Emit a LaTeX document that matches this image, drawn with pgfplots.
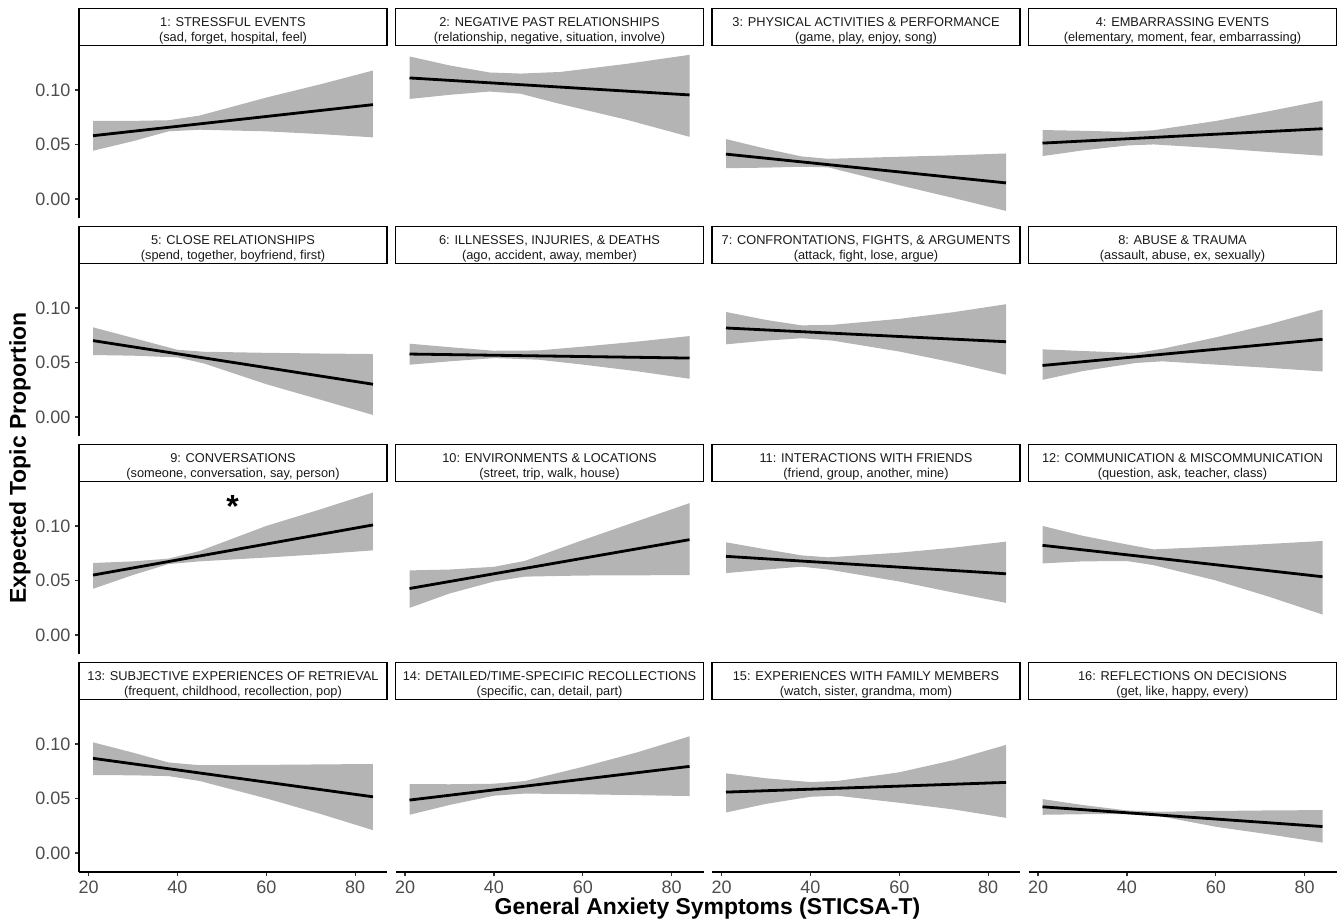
\documentclass[border=0pt]{standalone}
\usepackage{fontspec}
\setmainfont{Liberation Sans}
\usepackage{pgfplots}
\pgfplotsset{compat=1.18}
\usepackage{pgfplotstable}
\definecolor{ribbon}{RGB}{180,180,180}
\definecolor{tickgray}{RGB}{77,77,77}
\definecolor{striptext}{RGB}{26,26,26}

% ribbons: upper bound left to right, then lower bound right to left
\pgfplotstableread{
x y
21 0.0715
30 0.0716
38 0.0722
45 0.0765
60 0.0930
72 0.1050
84 0.1178
84 0.0565
72 0.0595
60 0.0620
45 0.0635
38 0.0620
30 0.0530
21 0.0442
}\RA
\pgfplotstableread{
x y
21 0.1307
30 0.1225
39 0.1160
46 0.1150
55 0.1165
70 0.1240
84 0.1322
84 0.0570
70 0.0725
55 0.0870
46 0.0965
39 0.0985
30 0.0955
21 0.0917
}\RB
\pgfplotstableread{
x y
21 0.0549
30 0.0460
38 0.0390
44 0.0368
60 0.0387
72 0.0400
84 0.0417
84 -0.0110
72 0.0010
60 0.0126
44 0.0290
38 0.0295
30 0.0287
21 0.0282
}\RC
\pgfplotstableread{
x y
21 0.0632
30 0.0625
40 0.0615
46 0.0630
60 0.0715
72 0.0805
84 0.0902
84 0.0396
72 0.0430
60 0.0465
46 0.0500
40 0.0490
30 0.0445
21 0.0393
}\RD
\pgfplotstableread{
x y
21 0.0822
30 0.0725
40 0.0616
46 0.0598
60 0.0588
72 0.0582
84 0.0577
84 0.0018
72 0.0160
60 0.0300
46 0.0490
40 0.0546
30 0.0562
21 0.0568
}\RE
\pgfplotstableread{
x y
21 0.0672
30 0.0640
40 0.0607
50 0.0610
60 0.0645
72 0.0690
84 0.0742
84 0.0350
72 0.0420
60 0.0480
50 0.0525
40 0.0540
30 0.0510
21 0.0479
}\RF
\pgfplotstableread{
x y
21 0.0963
30 0.0890
38 0.0840
45 0.0845
60 0.0900
72 0.0960
84 0.1034
84 0.0387
72 0.0500
60 0.0600
45 0.0700
38 0.0722
30 0.0700
21 0.0666
}\RG
\pgfplotstableread{
x y
21 0.0620
30 0.0605
42 0.0586
48 0.0625
60 0.0730
72 0.0850
84 0.0985
84 0.0417
72 0.0450
60 0.0480
48 0.0510
42 0.0495
30 0.0420
21 0.0340
}\RH
\pgfplotstableread{
x y
21 0.0660
30 0.0675
38 0.0700
45 0.0770
60 0.1000
72 0.1150
84 0.1307
84 0.0776
72 0.0740
60 0.0710
45 0.0675
38 0.0650
30 0.0550
21 0.0423
}\RI
\pgfplotstableread{
x y
21 0.0592
30 0.0600
40 0.0625
47 0.0680
60 0.0870
72 0.1040
84 0.1209
84 0.0549
72 0.0547
60 0.0545
47 0.0535
40 0.0490
30 0.0380
21 0.0248
}\RJ
\pgfplotstableread{
x y
21 0.0850
30 0.0785
38 0.0730
44 0.0712
60 0.0755
72 0.0800
84 0.0856
84 0.0294
72 0.0390
60 0.0490
44 0.0600
38 0.0626
30 0.0600
21 0.0567
}\RK
\pgfplotstableread{
x y
21 0.1000
30 0.0910
40 0.0830
46 0.0785
60 0.0810
72 0.0835
84 0.0862
84 0.0187
72 0.0350
60 0.0500
46 0.0640
40 0.0678
30 0.0675
21 0.0656
}\RL
\pgfplotstableread{
x y
21 0.1015
30 0.0920
38 0.0830
45 0.0805
60 0.0808
72 0.0812
84 0.0816
84 0.0209
72 0.0360
60 0.0500
45 0.0660
38 0.0705
30 0.0712
21 0.0715
}\RM
\pgfplotstableread{
x y
21 0.0632
30 0.0630
40 0.0635
47 0.0660
60 0.0790
72 0.0920
84 0.1070
84 0.0522
72 0.0530
60 0.0538
47 0.0545
40 0.0525
30 0.0440
21 0.0350
}\RN
\pgfplotstableread{
x y
21 0.0730
30 0.0685
40 0.0650
46 0.0660
60 0.0740
72 0.0850
84 0.0991
84 0.0322
72 0.0400
60 0.0460
46 0.0525
40 0.0515
30 0.0450
21 0.0371
}\RO
\pgfplotstableread{
x y
21 0.0494
30 0.0440
40 0.0390
47 0.0378
60 0.0385
72 0.0390
84 0.0393
84 0.0095
72 0.0170
60 0.0240
47 0.0340
40 0.0355
30 0.0355
21 0.0350
}\RP

\pgfplotsset{
  common/.style={
    scale only axis, width=231pt, height=129pt, anchor=north west,
    xmin=17.85, xmax=87.15, ymin=-0.0175, ymax=0.1403,
    xtick={20,40,60,80}, xticklabels={20,40,60,80},
    ytick={0,0.05,0.1}, yticklabels={0.00,0.05,0.10},
    axis x line*=bottom, axis y line*=left,
    axis line style={line width=0.9pt, black, -},
    tick style={line width=0.9pt, color=black!80},
    major tick length=3pt, tick align=outside,
    ticklabel style={font=\fontsize{13.5}{15}\selectfont, text=tickgray},
    clip=false,
  },
}
\tikzset{
  stripbox/.style={draw=black, line width=0.9pt, fill=white, inner sep=0pt,
    minimum width=231pt, minimum height=27.75pt},
  striptxt/.style={inner sep=0pt, align=center,
    text=striptext, font=\fontsize{9.6}{11.2}\selectfont},
}

\newcommand{\panel}[7]{%
\begin{axis}[common, at={(#1,#2)}, #7]
\addplot[fill=ribbon, draw=none] table[x=x,y=y]{#5};
\addplot[black, line width=2.1pt] coordinates {#6};
\node[stripbox, anchor=south] at (rel axis cs:0.5,1) {};
\node[striptxt] at ([yshift=11.7pt]rel axis cs:0.5,1) {#3\\#4};
\end{axis}}

\begin{document}
\begin{tikzpicture}
% row 1
\panel{59.25pt}{-34.5pt}{1: STRESSFUL EVENTS}{(sad, forget, hospital, feel)}{\RA}{(21,0.058) (84,0.0865)}{hide x axis}
\panel{296.625pt}{-34.5pt}{2: NEGATIVE PAST RELATIONSHIPS}{(relationship, negative, situation, involve)}{\RB}{(21,0.111) (84,0.0954)}{hide x axis, hide y axis}
\panel{534pt}{-34.5pt}{3: PHYSICAL ACTIVITIES \& PERFORMANCE}{(game, play, enjoy, song)}{\RC}{(21,0.0411) (84,0.0147)}{hide x axis, hide y axis}
\panel{771.375pt}{-34.5pt}{4: EMBARRASSING EVENTS}{(elementary, moment, fear, embarrassing)}{\RD}{(21,0.0512) (84,0.0644)}{hide x axis, hide y axis}
% row 2
\panel{59.25pt}{-198pt}{5: CLOSE RELATIONSHIPS}{(spend, together, boyfriend, first)}{\RE}{(21,0.070) (84,0.030)}{hide x axis}
\panel{296.625pt}{-198pt}{6: ILLNESSES, INJURIES, \& DEATHS}{(ago, accident, away, member)}{\RF}{(21,0.0577) (84,0.054)}{hide x axis, hide y axis}
\panel{534pt}{-198pt}{7: CONFRONTATIONS, FIGHTS, \& ARGUMENTS}{(attack, fight, lose, argue)}{\RG}{(21,0.0816) (84,0.069)}{hide x axis, hide y axis}
\panel{771.375pt}{-198pt}{8: ABUSE \& TRAUMA}{(assault, abuse, ex, sexually)}{\RH}{(21,0.0472) (84,0.0712)}{hide x axis, hide y axis}
% row 3
\panel{59.25pt}{-361.5pt}{9: CONVERSATIONS}{(someone, conversation, say, person)}{\RI}{(21,0.0549) (84,0.1009)}{hide x axis, extra description/.code={\node[font=\bfseries\fontsize{24}{24}\selectfont] at (axis cs:52.4,0.118) {*};}}
\panel{296.625pt}{-361.5pt}{10: ENVIRONMENTS \& LOCATIONS}{(street, trip, walk, house)}{\RJ}{(21,0.0426) (84,0.0874)}{hide x axis, hide y axis}
\panel{534pt}{-361.5pt}{11: INTERACTIONS WITH FRIENDS}{(friend, group, another, mine)}{\RK}{(21,0.0721) (84,0.0561)}{hide x axis, hide y axis}
\panel{771.375pt}{-361.5pt}{12: COMMUNICATION \& MISCOMMUNICATION}{(question, ask, teacher, class)}{\RL}{(21,0.0822) (84,0.0534)}{hide x axis, hide y axis}
% row 4
\panel{59.25pt}{-525pt}{13: SUBJECTIVE EXPERIENCES OF RETRIEVAL}{(frequent, childhood, recollection, pop)}{\RM}{(21,0.0868) (84,0.0515)}{}
\panel{296.625pt}{-525pt}{14: DETAILED/TIME-SPECIFIC RECOLLECTIONS}{(specific, can, detail, part)}{\RN}{(21,0.0485) (84,0.0794)}{hide y axis}
\panel{534pt}{-525pt}{15: EXPERIENCES WITH FAMILY MEMBERS}{(watch, sister, grandma, mom)}{\RO}{(21,0.0558) (84,0.0647)}{hide y axis}
\panel{771.375pt}{-525pt}{16: REFLECTIONS ON DECISIONS}{(get, like, happy, every)}{\RP}{(21,0.0423) (84,0.0242)}{hide y axis}
% axis titles
\node[font=\bfseries\fontsize{17.2}{19}\selectfont, rotate=90] at (15pt,-343.5pt) {Expected Topic Proportion};
\node[font=\bfseries\fontsize{17.2}{19}\selectfont] at (530.6pt,-681.5pt) {General Anxiety Symptoms (STICSA-T)};
\path (0,0) rectangle (1006.5pt,-691.5pt);
\end{tikzpicture}
\end{document}
